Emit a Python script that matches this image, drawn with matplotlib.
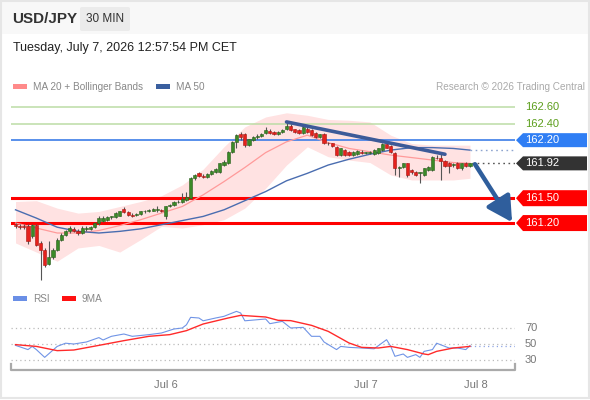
import matplotlib
matplotlib.use("Agg")
import matplotlib.pyplot as plt
from matplotlib.patches import Rectangle, Polygon, FancyBboxPatch
from matplotlib.transforms import blended_transform_factory
import numpy as np

plt.rcParams['font.family'] = ['Liberation Sans', 'DejaVu Sans']

# ---------------- data ----------------
opens = [161.18,161.16,161.17,161.17,161.04,161.18,160.96,160.88,160.71,160.79,
         160.88,161.00,161.06,161.10,161.13,161.11,161.08,161.13,161.13,161.15,
         161.20,161.22,161.24,161.27,161.27,161.29,161.37,161.33,161.30,161.30,
         161.31,161.34,161.34,161.35,161.36,161.36,161.28,161.40,161.42,161.45,
         161.45,161.48,161.50,161.74,161.80,161.77,161.75,161.79,161.81,161.81,
         161.90,161.92,162.06,162.18,162.27,162.27,162.14,162.20,162.24,162.25,
         162.29,162.31,162.30,162.27,162.30,162.33,162.37,162.33,162.32,162.29,
         162.34,162.32,162.29,162.24,162.28,162.17,162.16,162.12,162.02,162.08,
         162.06,162.02,162.03,162.06,162.05,162.04,162.03,162.04,162.08,162.15,
         162.13,162.04,161.86,161.88,161.92,161.84,161.82,161.80,161.78,161.84,
         161.84,161.99,161.98,161.95,161.93,161.90,161.93,161.87,161.93,161.89]
highs = [161.20,161.19,161.19,161.19,161.19,161.19,160.98,160.90,160.98,160.90,
         161.02,161.08,161.12,161.16,161.15,161.13,161.16,161.17,161.17,161.21,
         161.29,161.29,161.29,161.29,161.33,161.35,161.39,161.35,161.32,161.32,
         161.35,161.36,161.37,161.38,161.40,161.37,161.41,161.43,161.47,161.48,
         161.56,161.58,161.75,161.79,161.82,161.79,161.80,161.84,161.86,161.93,
         161.96,162.07,162.19,162.28,162.30,162.29,162.22,162.25,162.27,162.29,
         162.36,162.33,162.31,162.31,162.33,162.42,162.39,162.34,162.33,162.37,
         162.36,162.33,162.30,162.28,162.29,162.18,162.17,162.13,162.11,162.09,
         162.07,162.07,162.08,162.08,162.06,162.07,162.09,162.11,162.16,162.16,
         162.14,162.06,161.89,161.93,161.93,161.85,161.83,161.81,161.87,161.89,
         162.01,162.02,162.04,161.96,161.94,161.93,161.94,161.93,161.94,161.93]
lows = [161.14,161.13,161.13,160.95,161.02,160.92,160.51,160.67,160.69,160.77,
        160.86,160.98,161.04,161.08,161.09,161.06,161.07,161.11,161.12,161.14,
        161.18,161.21,161.23,161.25,161.26,161.28,161.32,161.28,161.27,161.28,
        161.30,161.32,161.33,161.34,161.33,161.33,161.25,161.39,161.41,161.44,
        161.44,161.47,161.49,161.72,161.76,161.74,161.74,161.78,161.80,161.80,
        161.89,161.91,162.05,162.10,162.20,162.12,162.13,162.19,162.22,162.24,
        162.28,162.27,162.26,162.26,162.29,162.32,162.31,162.29,162.27,162.28,
        162.29,162.25,162.23,162.23,162.15,162.14,162.12,162.01,162.01,162.01,
        162.01,162.01,162.02,162.03,162.03,162.03,162.02,162.03,162.07,162.10,
        162.05,161.78,161.76,161.87,161.76,161.79,161.77,161.68,161.77,161.83,
        161.83,161.97,161.72,161.88,161.80,161.88,161.85,161.84,161.88,161.88]
closes = [161.16,161.15,161.15,160.98,161.18,160.94,160.88,160.69,160.79,160.88,
          161.00,161.06,161.10,161.14,161.11,161.08,161.14,161.14,161.15,161.20,
          161.26,161.26,161.27,161.27,161.32,161.34,161.33,161.30,161.29,161.31,
          161.34,161.34,161.36,161.37,161.36,161.35,161.40,161.42,161.46,161.45,
          161.49,161.51,161.74,161.78,161.77,161.75,161.79,161.83,161.85,161.92,
          161.94,162.06,162.18,162.26,162.24,162.14,162.21,162.24,162.25,162.28,
          162.32,162.29,162.27,162.30,162.32,162.37,162.32,162.30,162.29,162.36,
          162.30,162.26,162.24,162.27,162.16,162.16,162.13,162.02,162.10,162.02,
          162.02,162.06,162.07,162.04,162.05,162.06,162.08,162.10,162.15,162.11,
          162.06,161.86,161.88,161.92,161.78,161.81,161.78,161.80,161.86,161.88,
          162.00,161.98,161.95,161.89,161.89,161.91,161.87,161.92,161.89,161.92]

ind_idx = [0,5,10,15,20,25,30,35,40,45,50,55,60,65,70,75,80,85,90,95,100,105,109]
ma20 = [161.20,161.14,161.08,161.08,161.11,161.17,161.24,161.32,161.40,161.54,161.70,161.87,
        162.05,162.18,162.26,162.17,162.10,162.06,162.02,161.99,161.96,161.93,161.92]
ma50 = [161.36,161.26,161.15,161.10,161.08,161.10,161.13,161.18,161.23,161.28,161.36,161.47,
        161.58,161.71,161.80,161.90,161.97,162.03,162.08,162.11,162.11,162.10,162.08]
bb_upper = [161.46,161.47,161.38,161.32,161.34,161.40,161.46,161.53,161.66,161.85,162.12,162.36,
            162.48,162.53,162.50,162.45,162.44,162.42,162.26,162.16,162.14,162.14,162.14]
bb_lower = [160.96,160.85,160.74,160.90,160.93,160.85,161.00,161.16,161.14,161.18,161.24,161.38,
            161.62,161.90,162.12,162.00,161.96,161.93,161.78,161.72,161.72,161.72,161.74]

trend_x = [65, 103]
trend_y = [162.42, 162.03]
arrow_from = (110.2, 161.91)
arrow_to = (119.1, 161.21)

resist_levels = [162.60, 162.40]
pivot_level = 162.20
support_levels = [161.50, 161.20]
last_price = 161.92

rsi_idx = [0,3,4,5,7,10,12,14,17,20,21,23,26,28,32,35,38,40,41,42,44,45,48,50,53,54,55,
           60,61,64,66,69,71,73,74,77,78,80,83,86,89,90,91,93,94,96,97,98,100,101,102,
           103,104,106,108,109]
rsi_val = [48.3,43,47,43,33.3,47,51,50,52.5,58,55,59.6,62.5,59.6,61.7,63.75,68.75,70,74,83.3,
           82.5,79,82.5,84.6,90.8,88.75,79,81.25,75.4,78.3,70,70.8,59.6,59.6,52.5,43,47,45.8,
           45,44,55.4,47,34.6,37.5,33.3,36.7,33.3,40.8,43,51,49,47,45,45,43,48]
ma9_idx = [0,5,10,14,20,26,32,37,41,45,51,54,60,63,66,71,75,80,83,87,90,94,98,99,101,105,109]
ma9_val = [49.2,47,41.7,42.5,48.3,54.2,59.6,61.7,66.7,75,82.5,85.8,83.75,79.6,79.2,73.3,65.8,
           51.25,45.8,45,47,43,37.5,36.7,40.8,45,47]
rsi_levels = [70, 50, 30]

tick_pos = [36.1, 84.1, 110.3]
tick_labels = ['Jul 6', 'Jul 7', 'Jul 8']

# ---------------- figure ----------------
W, H = 590, 400
fig = plt.figure(figsize=(W/100, H/100), dpi=100)
fig.patch.set_facecolor('white')

def fx(x): return x / W
def fy(y): return 1 - y / H

# header background and frame
fig.patches.append(Rectangle((0, fy(34)), 1, 34/H, transform=fig.transFigure,
                             facecolor='#f8f8f8', edgecolor='none', zorder=0))
fig.patches.append(Rectangle((0.002, 0.004), 0.996, 0.994, transform=fig.transFigure,
                             facecolor='none', edgecolor='#e6e6e6', lw=1.5, zorder=0))
fig.patches.append(FancyBboxPatch((fx(80), fy(31)), 50/W, 24/H, transform=fig.transFigure,
                                  boxstyle='round,pad=0,rounding_size=0.004',
                                  facecolor='#ebebeb', edgecolor='none', zorder=1))
fig.text(fx(12), fy(19), 'USD/JPY', fontsize=11, fontweight='bold', color='#333333', va='center')
fig.text(fx(105), fy(19), '30 MIN', fontsize=8.5, color='#333333', va='center', ha='center')
fig.text(fx(13), fy(48), 'Tuesday, July 7, 2026 12:57:54 PM CET', fontsize=9, color='#222222', va='center')

# legends
fig.patches.append(Rectangle((fx(13), fy(89)), 14/W, 5/H, transform=fig.transFigure,
                             facecolor='#ff8a8a', edgecolor='none'))
fig.text(fx(33), fy(86.5), 'MA 20 + Bollinger Bands', fontsize=7.2, color='#888888', va='center')
fig.patches.append(Rectangle((fx(156), fy(89)), 14/W, 5/H, transform=fig.transFigure,
                             facecolor='#3a5f9f', edgecolor='none'))
fig.text(fx(176), fy(86.5), 'MA 50', fontsize=7.2, color='#888888', va='center')
fig.text(fx(585), fy(86.5), 'Research \u00a9 2026 Trading Central', fontsize=7.2,
         color='#aaaaaa', va='center', ha='right')

fig.patches.append(Rectangle((fx(13), fy(301)), 14/W, 5/H, transform=fig.transFigure,
                             facecolor='#6a8fe6', edgecolor='none'))
fig.text(fx(33), fy(298.5), 'RSI', fontsize=7.2, color='#888888', va='center')
fig.patches.append(Rectangle((fx(62), fy(301)), 14/W, 5/H, transform=fig.transFigure,
                             facecolor='#ff1010', edgecolor='none'))
fig.text(fx(82), fy(298.5), '9MA', fontsize=7.2, color='#888888', va='center')

# ---------------- price axes ----------------
AX_L, AX_R = 11, 515
XMIN, XMAX = -1.08, 119.8
PX_PER = 82.9
ax = fig.add_axes([fx(AX_L), fy(285), (AX_R-AX_L)/W, (285-95)/H])
ax.set_xlim(XMIN, XMAX)
ax.set_ylim(162.60 - (285-107)/PX_PER, 162.60 + (107-95)/PX_PER)
ax.axis('off')

ax.fill_between(ind_idx, bb_lower, bb_upper, color='#ffe2e2', lw=0, zorder=1)
ax.plot(ind_idx, ma20, color='#ff9a9a', lw=0.9, zorder=2)
ax.plot(ind_idx, ma50, color='#4a6db0', lw=1.0, zorder=2)
ax.plot([ind_idx[-1], XMAX], [ma50[-1]]*2, color='#8ea5cf', lw=1, ls=(0, (1.2, 2.5)), zorder=2)

for lv in resist_levels:
    ax.axhline(lv, color='#bcdca5', lw=1.1, zorder=1.5)
ax.axhline(pivot_level, color='#3c7de8', lw=1.2, zorder=1.5)
for lv in support_levels:
    ax.axhline(lv, color='#ff0000', lw=2.2, zorder=1.5)

# candles
o = np.array(opens); c = np.array(closes); h = np.array(highs); l = np.array(lows)
xs = np.arange(len(o))
up = c >= o
ax.vlines(xs, l, h, color='#555555', lw=0.8, zorder=3)
body_bot = np.minimum(o, c)
body_h = np.maximum(np.abs(c - o), 0.01)
ax.bar(xs[up], body_h[up], bottom=body_bot[up], width=0.75, color='#3b8a27',
       edgecolor='#2a5d1c', lw=0.4, zorder=4)
ax.bar(xs[~up], body_h[~up], bottom=body_bot[~up], width=0.75, color='#e5211c',
       edgecolor='#a51510', lw=0.4, zorder=4)

ax.plot(trend_x, trend_y, color='#3d5a98', lw=2.6, solid_capstyle='round', zorder=5)
ax.plot([xs[-1] + 0.5, XMAX], [last_price]*2, color='#555555', lw=1, ls=(0, (1.2, 2.5)), zorder=2)

ax.annotate('', xy=arrow_to, xytext=arrow_from,
            arrowprops=dict(arrowstyle='-|>,head_length=1.0,head_width=0.55', color='#2f5e9c',
                            lw=3.2, shrinkA=0, shrinkB=0, mutation_scale=15),
            annotation_clip=False, zorder=6)

# right-hand tags
tr = blended_transform_factory(ax.transAxes, ax.transData)
def afx(px): return (px - AX_L) / (AX_R - AX_L)

def tag(level, text, face, half=8):
    hh = half / PX_PER
    pts = [(afx(516), level), (afx(523), level + hh), (afx(587), level + hh),
           (afx(587), level - hh), (afx(523), level - hh)]
    ax.add_patch(Polygon(pts, closed=True, transform=tr, facecolor=face,
                         edgecolor='none', clip_on=False, zorder=7))
    ax.text(afx(525), level, text, transform=tr, fontsize=8, color='white',
            va='center', ha='left', zorder=8, clip_on=False)

for lv in resist_levels:
    ax.text(afx(525), lv, f'{lv:.2f}', transform=tr, fontsize=8, color='#5c9e1c',
            va='center', ha='left', clip_on=False)
tag(pivot_level, f'{pivot_level:.2f}', '#2f7ef4', half=7)
tag(last_price, f'{last_price:.2f}', '#333333', half=7)
for lv in support_levels:
    tag(lv, f'{lv:.2f}', '#ff0000', half=8)

# ---------------- RSI axes ----------------
ax2 = fig.add_axes([fx(AX_L), fy(370), (AX_R-AX_L)/W, 70/H])
ax2.set_xlim(XMIN, XMAX)
ax2.set_ylim(50 - 26/0.8, 50 + 44/0.8)
for s in ax2.spines.values():
    s.set_visible(False)
for lv in rsi_levels:
    ax2.axhline(lv, color='#bbbbbb', lw=0.9, ls=(0, (1, 2.5)), zorder=1)
tr2 = blended_transform_factory(ax2.transAxes, ax2.transData)
for lv in rsi_levels:
    ax2.text(afx(525), lv, str(lv), transform=tr2, fontsize=8, color='#777777',
             va='center', ha='left', clip_on=False)
ax2.plot(rsi_idx, rsi_val, color='#7094e6', lw=0.8, zorder=3)
ax2.plot(ma9_idx, ma9_val, color='#ff2a2a', lw=1.0, zorder=4)
ax2.plot([rsi_idx[-1], XMAX], [rsi_val[-1]]*2, color='#8ea5e6', lw=0.9, ls=(0, (1, 2.5)), zorder=2)

# bottom bracket axis
ax2.plot([0, 0, 1, 1], [6/70, 0, 0, 6/70], transform=ax2.transAxes, color='#aaaaaa',
         lw=1.6, clip_on=False, zorder=5)
ax2.set_yticks([])
ax2.set_xticks(tick_pos)
ax2.set_xticklabels(tick_labels, fontsize=8, color='#777777')
ax2.tick_params(axis='x', length=0, pad=7)
ax2.set_facecolor('none')

fig.savefig('out.png', dpi=100)
